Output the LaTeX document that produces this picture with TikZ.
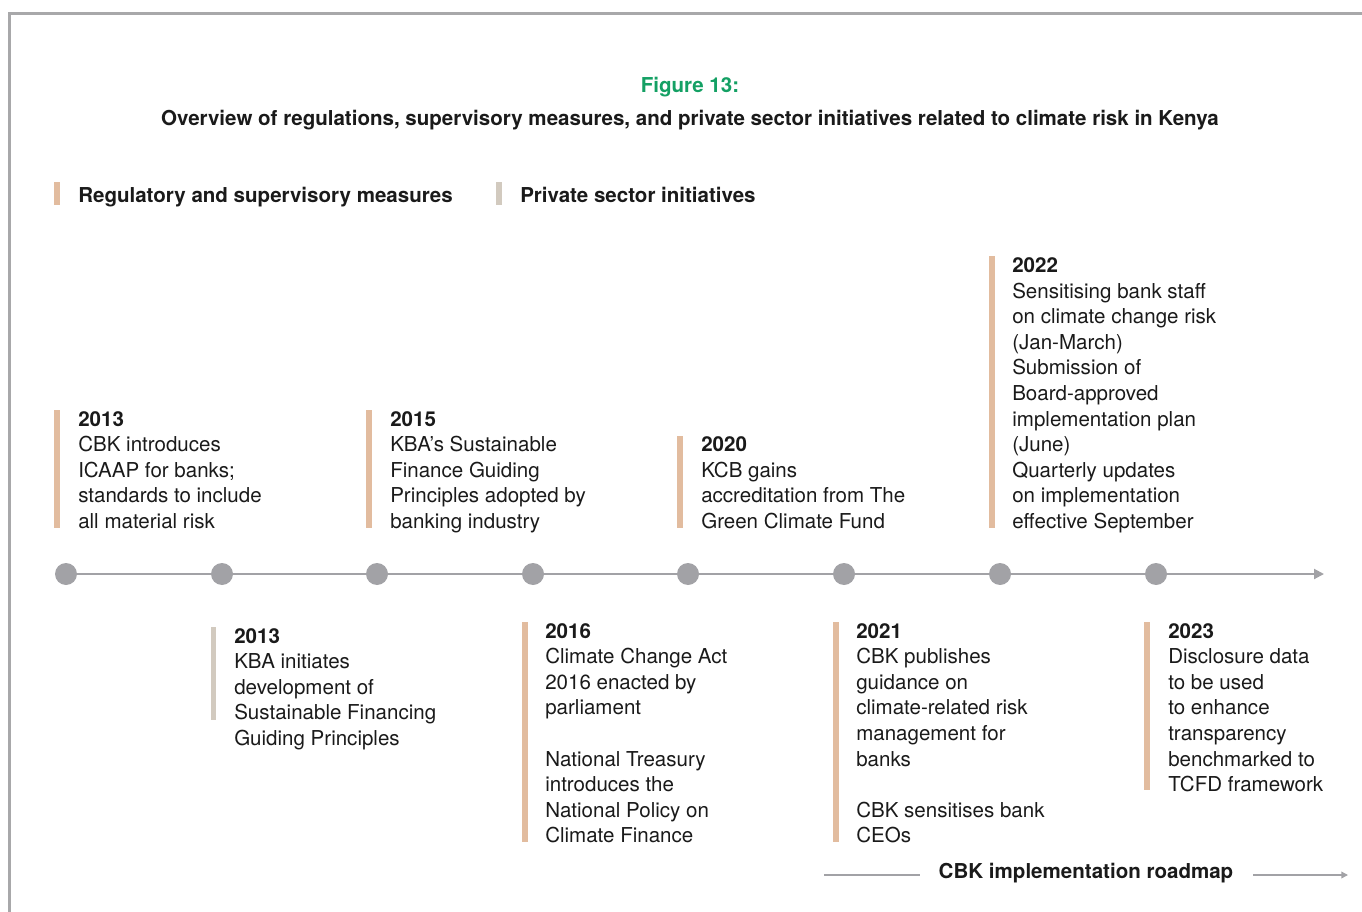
\documentclass[tikz,border=0pt]{standalone}
\usepackage{fontspec}
\setmainfont{TeX Gyre Heros}
\usetikzlibrary{arrows.meta}
\definecolor{framegray}{HTML}{A8A8AA}
\definecolor{linegray}{HTML}{A2A2A6}
\definecolor{regtan}{HTML}{E2BC9F}
\definecolor{privgray}{HTML}{D2CABF}
\definecolor{figgreen}{HTML}{14A064}
\definecolor{txt}{HTML}{1A1A1A}
\newcommand{\bodyfnt}{\fontsize{15.4}{19.2}\selectfont}
\tikzset{
  entry/.style={anchor=north west, align=left, inner sep=0pt, font=\bodyfnt, text=txt},
  legendtext/.style={anchor=base west, inner sep=0pt, font=\bodyfnt\bfseries, text=txt},
  dot/.style={circle, fill=linegray, draw=none, minimum size=16.5pt, inner sep=0pt},
}
\begin{document}
\begin{tikzpicture}[x=0.75pt, y=-0.75pt]
\useasboundingbox (0,0) rectangle (1362,912);
% frame
\draw[framegray, line width=2.25pt] (9,912) -- (9,14) -- (1362,14);
% titles
\node[anchor=base, inner sep=0pt, font=\bodyfnt\bfseries, text=figgreen] (fig) at (690,92.5) {Figure 13:};
\node[anchor=base, inner sep=0pt, font=\bodyfnt\bfseries, text=txt] (title) at (690,125.5) {Overview of regulations, supervisory measures, and private sector initiatives related to climate risk in Kenya};
% legend
\fill[regtan] (54,182) rectangle (60,205);
\node[legendtext] (leg1) at (78,202.5) {Regulatory and supervisory measures};
\fill[privgray] (496,182) rectangle (502,205);
\node[legendtext] (leg2) at (520,202.5) {Private sector initiatives};
% timeline
\foreach \i/\x in {1/66,2/222,3/377,4/533,5/688,6/844,7/1000,8/1156}
  \coordinate (d\i) at (\x,574);
\coordinate (tend) at (1324,574);
\draw[linegray, line width=1.5pt, -{Triangle[length=7.5pt,width=7.5pt]}] (d1) -- (tend);
\foreach \i in {1,...,8} \node[dot] (dot\i) at (d\i) {};
% upper entries
\fill[regtan] (54,410) rectangle (60,528);
\node[entry] (e2013a) at (78,411) {\textbf{2013}\\CBK introduces\\ICAAP for banks;\\standards to include\\all material risk};
\fill[regtan] (366,410) rectangle (372,528);
\node[entry] (e2015) at (390,411) {\textbf{2015}\\KBA’s Sustainable\\Finance Guiding\\Principles adopted by\\banking industry};
\fill[regtan] (677,435.6) rectangle (683,528);
\node[entry] (e2020) at (701,436.6) {\textbf{2020}\\KCB gains\\accreditation from The\\Green Climate Fund};
\fill[regtan] (989,256.4) rectangle (995,528);
\node[entry] (e2022) at (1012,257.4) {\textbf{2022}\\Sensitising bank staff\\on climate change risk\\(Jan-March)\\Submission of\\Board-approved\\implementation plan\\(June)\\Quarterly updates\\on implementation\\effective September};
% lower entries
\fill[privgray] (211,627) rectangle (216,720);
\node[entry] (e2013b) at (234,628) {\textbf{2013}\\KBA initiates\\development of\\Sustainable Financing\\Guiding Principles};
\fill[regtan] (522,622) rectangle (528,842);
\node[entry] (e2016) at (545,623) {\textbf{2016}\\Climate Change Act\\2016 enacted by\\parliament\\[19.2pt]National Treasury\\introduces the\\National Policy on\\Climate Finance};
\fill[regtan] (833,622) rectangle (839,842);
\node[entry] (e2021) at (856,623) {\textbf{2021}\\CBK publishes\\guidance on\\climate-related risk\\management for\\banks\\[19.2pt]CBK sensitises bank\\CEOs};
\fill[regtan] (1144,622) rectangle (1150,790);
\node[entry] (e2023) at (1168,623) {\textbf{2023}\\Disclosure data\\to be used\\to enhance\\transparency\\benchmarked to\\TCFD framework};
% roadmap
\node[anchor=base, inner sep=0pt, font=\bodyfnt\bfseries, text=txt] (road) at (1086,878.5) {CBK implementation roadmap};
\coordinate (r1) at (824,875);
\coordinate (r2) at (920,875);
\coordinate (r3) at (1253,875);
\coordinate (r4) at (1348,875);
\draw[linegray, line width=1pt] (r1) -- (r2);
\draw[linegray, line width=1pt, -{Triangle[length=5pt,width=5pt]}] (r3) -- (r4);
\end{tikzpicture}
\end{document}
